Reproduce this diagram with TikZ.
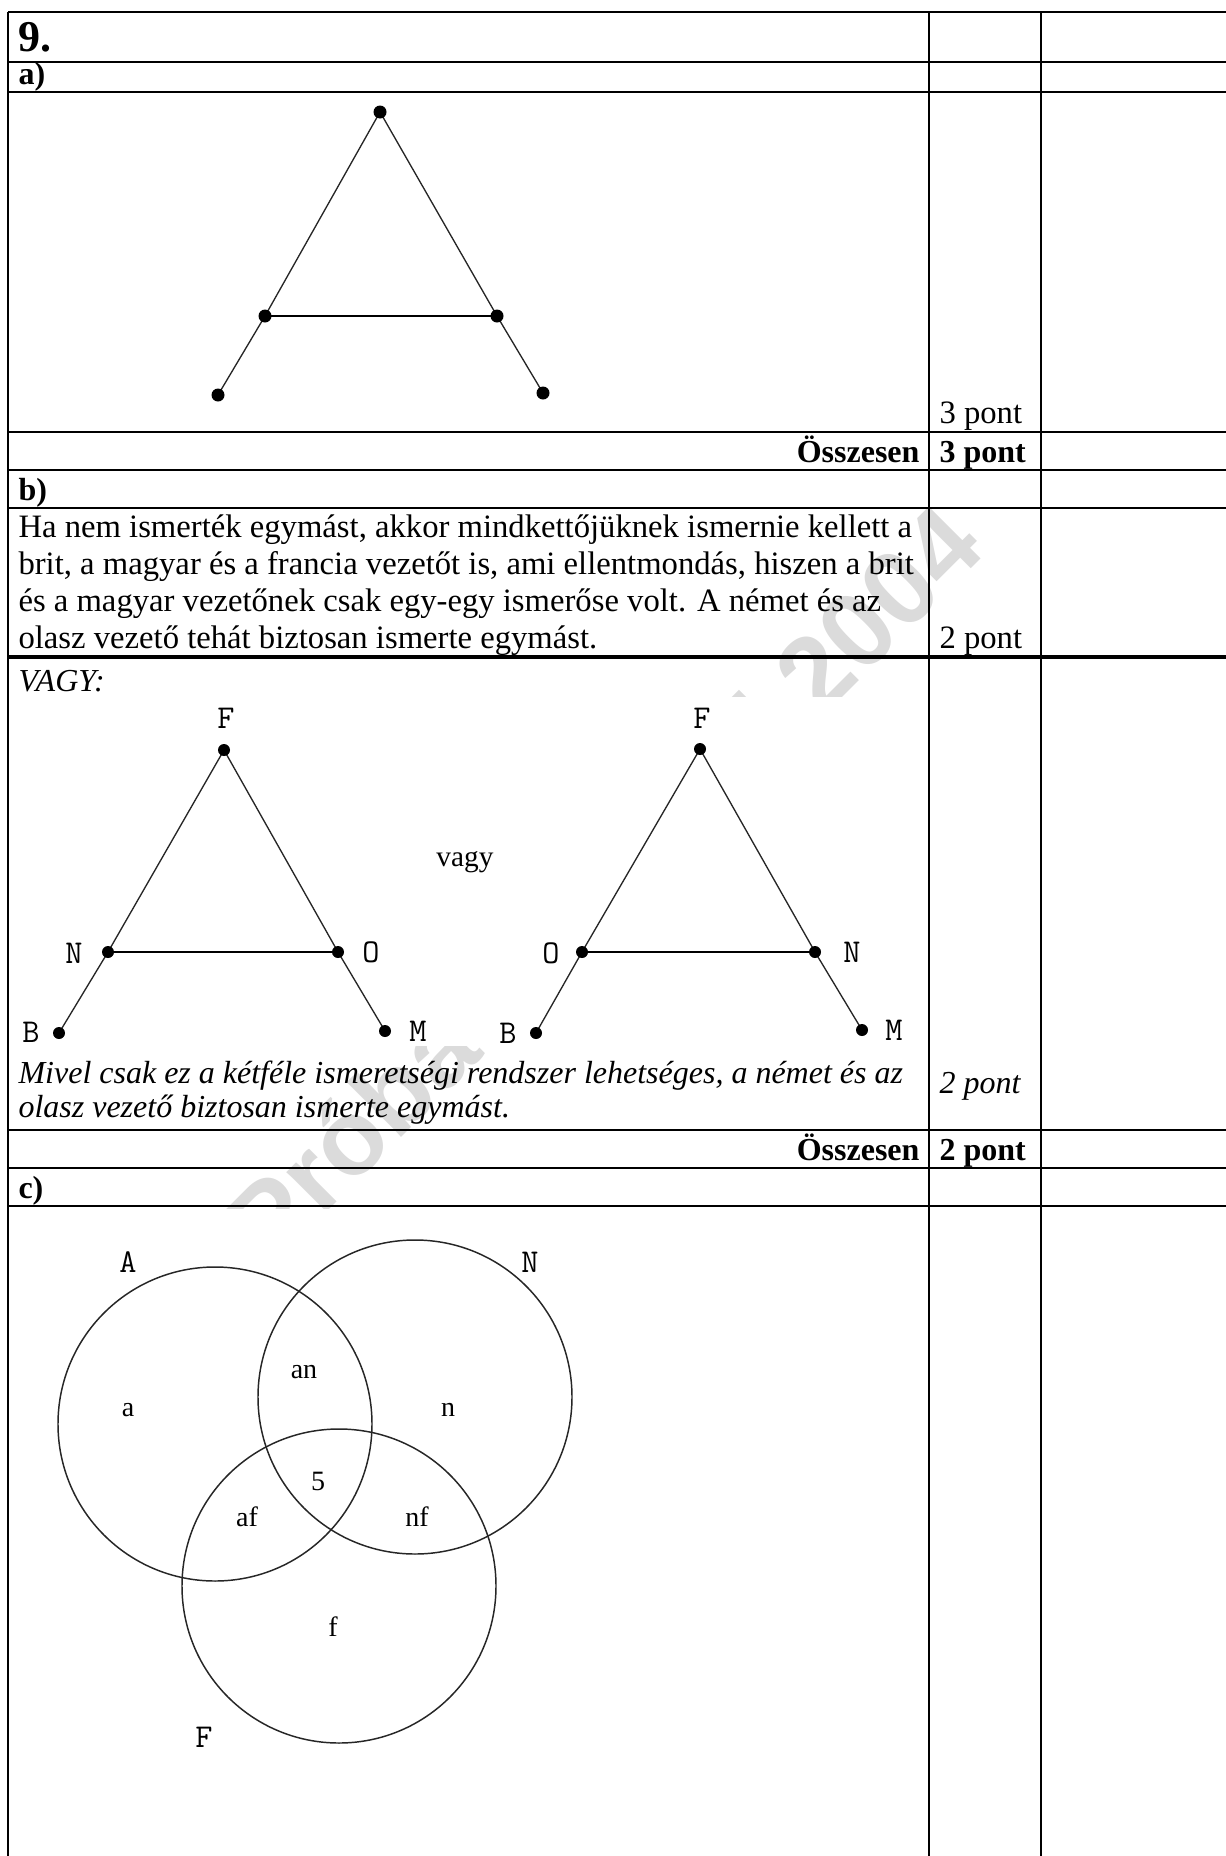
\documentclass[tikz,border=0pt]{standalone}
\usepackage{fontspec}
\setmainfont{Liberation Serif}
\newfontfamily\wmfont{Liberation Sans}
\usetikzlibrary{calc}

\tikzset{
  cell/.style={line width=0.8pt},
  thickcell/.style={line width=1.3pt},
  body/.style={inner sep=0pt, anchor=base west, font=\fontsize{12.25}{14}\selectfont},
  bold/.style={inner sep=0pt, anchor=base west, font=\fontsize{12}{14}\selectfont\bfseries},
  ital/.style={inner sep=0pt, anchor=base west, font=\fontsize{12}{14}\selectfont\itshape},
  vlabel/.style={inner sep=0pt, font=\ttfamily\fontsize{12.5}{14}\selectfont},
  region/.style={inner sep=0pt, font=\fontsize{10.5}{12}\selectfont},
  edge/.style={line width=0.5pt, black!85},
  midedge/.style={line width=0.8pt},
  venn/.style={line width=0.55pt, black!85}
}

\begin{document}
\begin{tikzpicture}[x=0.375pt, y=-0.375pt]
\useasboundingbox (0,0) rectangle (1226,1856);

% watermark, partly hidden by the pasted figures
\node[rotate=45, inner sep=0pt, text=black!14,
  font=\wmfont\bfseries\fontsize{40}{40}\selectfont] (wm) at (610,890) {Próbaérettségi 2004};
\fill[white] (15,697) rectangle (922,1046);
\fill[white] (15,1209) rectangle (700,1856);

% table
\draw[cell] (8,12) -- (1226,12);
\foreach \y in {62,92,432,470,508,1130,1168,1206}
  \draw[cell] (8,\y) -- (1226,\y);
\draw[thickcell] (8,657) -- (1226,657);
\foreach \x in {8,929,1041}
  \draw[cell] (\x,12) -- (\x,1856);

\node[bold, font=\fontsize{16.5}{18}\selectfont\bfseries] (nine) at (18,51) {9.};
\node[bold] (parta) at (18,84) {a)};
\node[body] (pta) at (939,423) {3 pont};
\node[bold, anchor=base east] (suml1) at (920,462) {Összesen};
\node[bold] (suma) at (939,462) {3 pont};
\node[bold] (partb) at (18,500) {b)};
\node[body] (b1) at (18,537) {Ha nem ismerték egymást, akkor mindkettőjüknek ismernie kellett a};
\node[body] (b2) at (18,574) {brit, a magyar és a francia vezetőt is, ami ellentmondás, hiszen a brit};
\node[body] (b3) at (18,611) {és a magyar vezetőnek csak egy-egy ismerőse volt. A német és az};
\node[body] (b4) at (18,648) {olasz vezető tehát biztosan ismerte egymást.};
\node[body] (ptb) at (939,648) {2 pont};
\node[ital] (or) at (18,691) {VAGY:};
\node[ital] (m1) at (18,1083) {Mivel csak ez a kétféle ismeretségi rendszer lehetséges, a német és az};
\node[ital] (m2) at (18,1117) {olasz vezető biztosan ismerte egymást.};
\node[ital] (ptb2) at (939,1093) {2 pont};
\node[bold, anchor=base east] (suml2) at (920,1160) {Összesen};
\node[bold] (sumb) at (939,1160) {2 pont};
\node[bold] (partc) at (18,1198) {c)};

% a) graph
\coordinate (aT) at (380,112);
\coordinate (aL) at (265,316);
\coordinate (aR) at (497,316);
\coordinate (aBL) at (218,395);
\coordinate (aBR) at (543,393);
\draw[edge] (aBL) -- (aL) -- (aT) -- (aR) -- (aBR);
\draw[midedge] (aL) -- (aR);
\foreach \p in {aT,aL,aR,aBL,aBR}
  \fill (\p) circle (6.5);

% b) two graphs
\coordinate (lF) at (224,750);
\coordinate (lN) at (108,952);
\coordinate (lO) at (338,952);
\coordinate (lB) at (59,1033);
\coordinate (lM) at (385,1031);
\coordinate (rF) at (700,749);
\coordinate (rO) at (582,952);
\coordinate (rN) at (815,952);
\coordinate (rB) at (536,1033);
\coordinate (rM) at (862,1030);
\draw[edge] (lB) -- (lN) -- (lF) -- (lO) -- (lM);
\draw[midedge] (lN) -- (lO);
\draw[edge] (rB) -- (rO) -- (rF) -- (rN) -- (rM);
\draw[midedge] (rO) -- (rN);
\foreach \p in {lF,lN,lO,lB,lM,rF,rO,rN,rB,rM}
  \fill (\p) circle (6);
\node[vlabel] (lFt) at (226,718) {F};
\node[vlabel] (lNt) at (74,953) {N};
\node[vlabel] (lOt) at (371,952) {O};
\node[vlabel] (lBt) at (31,1032) {B};
\node[vlabel] (lMt) at (418,1031) {M};
\node[vlabel] (rFt) at (702,718) {F};
\node[vlabel] (rOt) at (551,953) {O};
\node[vlabel] (rNt) at (852,952) {N};
\node[vlabel] (rBt) at (508,1033) {B};
\node[vlabel] (rMt) at (894,1030) {M};
\node[region, font=\fontsize{11}{12}\selectfont] (either) at (465,862) {vagy};

% c) Venn diagram
\coordinate (cA) at (215,1424);
\coordinate (cN) at (415,1397);
\coordinate (cF) at (339,1586);
\foreach \c in {cA,cN,cF}
  \draw[venn] (\c) circle (157);
\node[vlabel] (setA) at (128,1262) {A};
\node[vlabel] (setN) at (530,1262) {N};
\node[vlabel] (setF) at (204,1737) {F};
\node[region] (ra) at (128,1410) {a};
\node[region] (rn) at (448,1410) {n};
\node[region] (ran) at (304,1372) {an};
\node[region] (rall) at (318,1481) {5};
\node[region] (raf) at (247,1517) {af};
\node[region] (rnf) at (417,1517) {nf};
\node[region] (rf) at (333,1627) {f};
\end{tikzpicture}
\end{document}
